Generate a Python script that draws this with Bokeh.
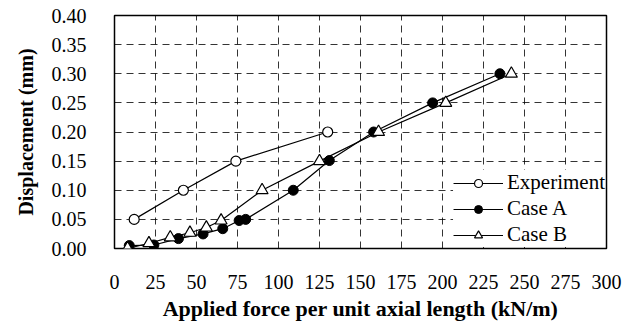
from bokeh.plotting import figure
from bokeh.models import Legend, LegendItem, Range1d, FixedTicker, NumeralTickFormatter
from bokeh.embed import file_html
from bokeh.resources import INLINE

exp_x = [12, 42, 74, 130]
exp_y = [0.05, 0.10, 0.15, 0.20]
a_x = [9, 24, 39, 54, 66, 76, 80, 109, 131, 158, 194, 235]
a_y = [0.005, 0.006, 0.017, 0.025, 0.034, 0.048, 0.050, 0.100, 0.151, 0.200, 0.250, 0.300]
b_x = [8, 21, 34, 46, 56, 65, 90, 125, 161, 202, 242]
b_y = [0.0, 0.009, 0.019, 0.027, 0.036, 0.048, 0.100, 0.150, 0.200, 0.250, 0.300]
x_ticks = list(range(0, 301, 25))
y_ticks = [0.0, 0.05, 0.10, 0.15, 0.20, 0.25, 0.30, 0.35, 0.40]

FONT = "Liberation Serif"

p = figure(width=623, height=327, output_backend="svg", toolbar_location=None,
           x_range=Range1d(0, 300), y_range=Range1d(0, 0.40))
p.min_border_left = 114
p.min_border_right = 17
p.min_border_top = 15
p.min_border_bottom = 79
p.outline_line_color = "black"
p.outline_line_width = 1.5

for ax in (p.xaxis[0], p.yaxis[0]):
    ax.major_tick_line_color = None
    ax.minor_tick_line_color = None
    ax.axis_line_color = None
    ax.major_label_text_font = FONT
    ax.major_label_text_font_size = "20px"
    ax.major_label_text_color = "black"
    ax.axis_label_text_font = FONT
    ax.axis_label_text_font_style = "bold"
    ax.axis_label_text_color = "black"

p.xaxis.axis_label_text_font_size = "22px"
p.yaxis.axis_label_text_font_size = "20px"
p.xaxis.ticker = FixedTicker(ticks=x_ticks)
p.yaxis.ticker = FixedTicker(ticks=y_ticks)
p.yaxis.formatter = NumeralTickFormatter(format="0.00")
p.xaxis.major_label_standoff = 20
p.yaxis.major_label_standoff = 22
p.xaxis.axis_label = "Applied force per unit axial length (kN/m)"
p.yaxis.axis_label = "Displacement (mm)"
p.xaxis.axis_label_standoff = 4
p.yaxis.axis_label_standoff = 12

for g in (p.xgrid[0], p.ygrid[0]):
    g.grid_line_color = "black"
    g.grid_line_dash = "7 5"
    g.grid_line_width = 0.8

l1 = p.line(exp_x, exp_y, line_color="black", line_width=1.2)
s1 = p.scatter(exp_x, exp_y, marker="circle", size=10, fill_color="white", line_color="black", line_width=1.2)
l2 = p.line(a_x, a_y, line_color="black", line_width=1.2)
s2 = p.scatter(a_x, a_y, marker="circle", size=10, fill_color="black", line_color="black")
l3 = p.line(b_x, b_y, line_color="black", line_width=1.2)
s3 = p.scatter(b_x, b_y, marker="triangle", size=12, fill_color="white", line_color="black", line_width=1.2)

legend = Legend(items=[
    LegendItem(label="Experiment", renderers=[l1, s1]),
    LegendItem(label="Case A", renderers=[l2, s2]),
    LegendItem(label="Case B", renderers=[l3, s3]),
], location="bottom_right")
legend.label_text_font = FONT
legend.label_text_font_size = "21px"
legend.label_text_color = "black"
legend.border_line_color = None
legend.background_fill_color = "white"
legend.background_fill_alpha = 1
legend.glyph_width = 50
legend.glyph_height = 20
legend.label_height = 22
legend.spacing = 1
legend.padding = 7
legend.margin = 1
legend.label_standoff = 4
p.add_layout(legend)

open("out.html", "w").write(file_html(p, INLINE))
